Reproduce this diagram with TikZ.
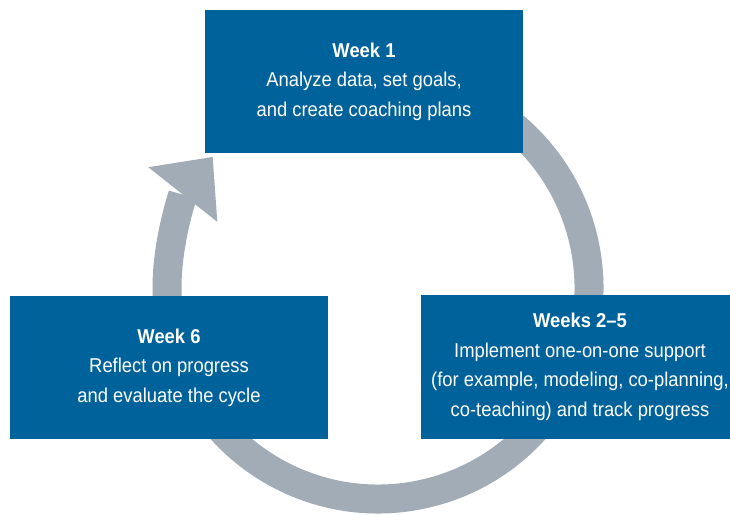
\documentclass[tikz,border=0pt]{standalone}
\usepackage{fontspec}
\setmainfont{Liberation Sans}[FakeStretch=0.92]
\usepackage{tikz}
\usetikzlibrary{arrows.meta}
\definecolor{boxblue}{RGB}{0,98,155}
\definecolor{ringgray}{RGB}{161,172,183}

\begin{document}
\begin{tikzpicture}[x=1pt,y=1pt]
% Define styles
\tikzstyle{box} = [rectangle, fill=boxblue, text=white, minimum width=318pt, minimum height=143pt, inner sep=0pt, align=center, font=\fontsize{20}{29.5}\selectfont]
\tikzstyle{ring} = [ringgray, line width=29pt, -{Triangle[width=88pt,length=48pt,line width=0pt]}]

\clip (0,0) rectangle (730,514);

% Draw cycle
\coordinate (c) at (378,226);
\draw[ring] (c) ++(60:211) arc[start angle=60, end angle=-218.4, radius=211];

% Draw nodes
\node[box] (w1) at (364,432.5) {\textbf{Week 1}\\Analyze data, set goals,\\and create coaching plans};
\node[box] (w25) at (580,147) {\textbf{Weeks 2–5}\\Implement one-on-one support\\(for example, modeling, co-planning,\\co-teaching) and track progress};
\node[box] (w6) at (169,146.5) {\textbf{Week 6}\\Reflect on progress\\and evaluate the cycle};
\end{tikzpicture}
\end{document}
